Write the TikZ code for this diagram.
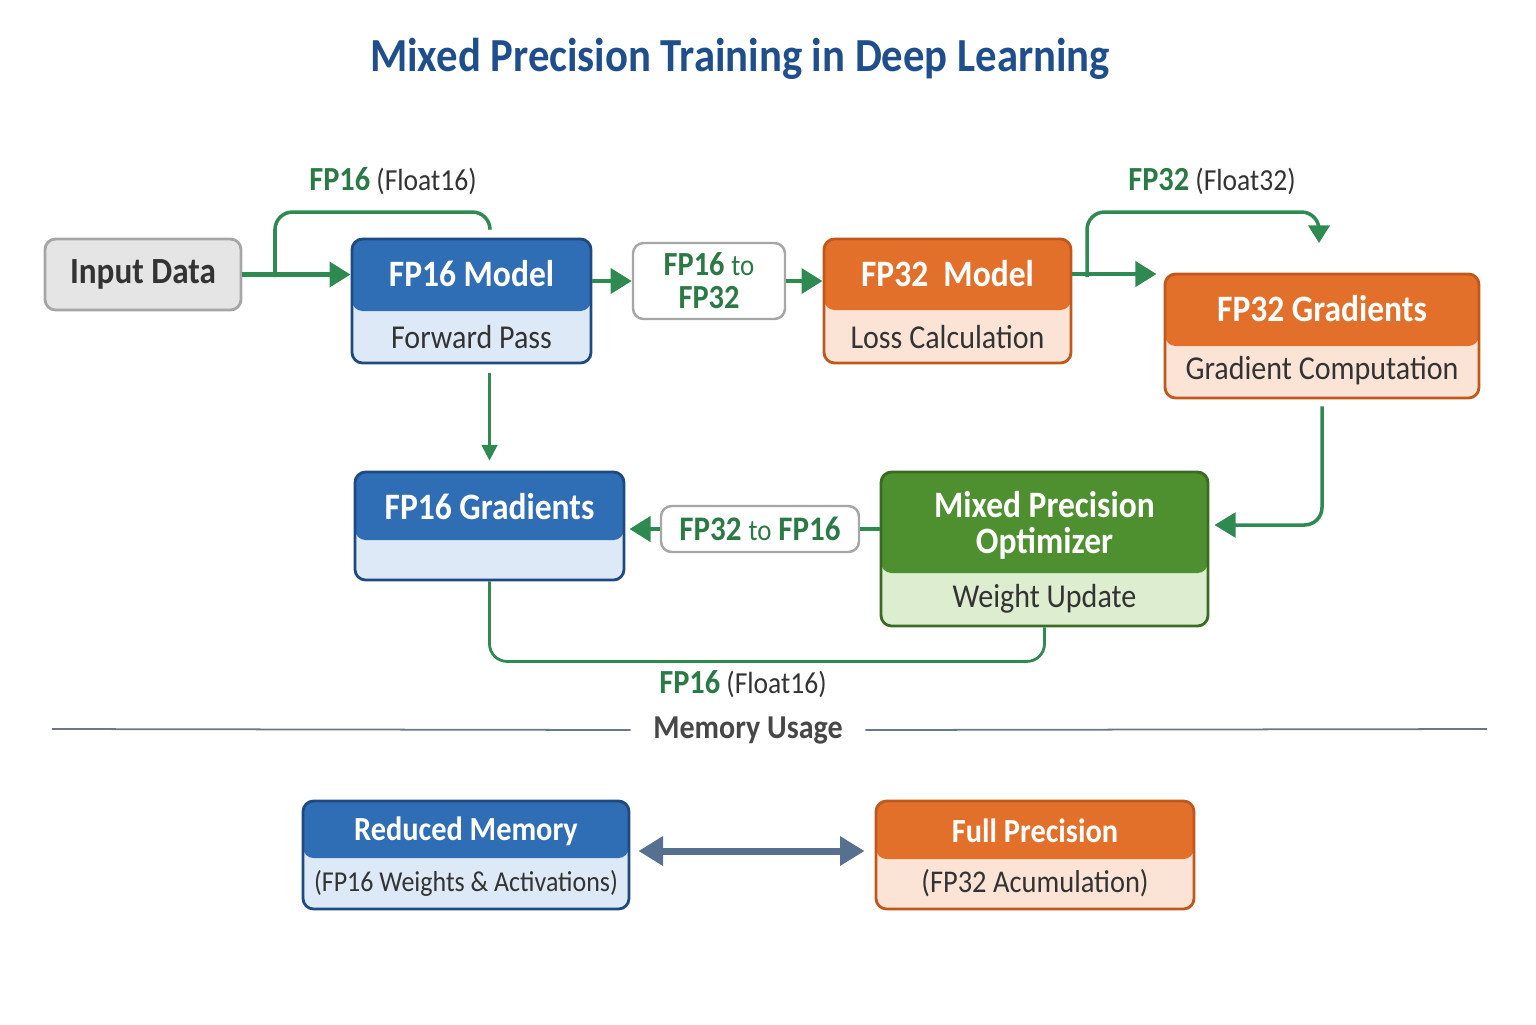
\documentclass[tikz,border=0pt]{standalone}
\usepackage{fontspec}
\setmainfont[FakeStretch=0.9]{Carlito}
\usetikzlibrary{positioning, arrows.meta, calc}
\definecolor{titleBlue}{HTML}{1F4E8C}
\definecolor{mBlue}{HTML}{2F6DB5}
\definecolor{mBlueDark}{HTML}{1F4A80}
\definecolor{mBlueLight}{HTML}{DDE9F6}
\definecolor{mOrange}{HTML}{E2702A}
\definecolor{mOrangeDark}{HTML}{C0581C}
\definecolor{mOrangeLight}{HTML}{FBE4D5}
\definecolor{mGreen}{HTML}{4E9030}
\definecolor{mGreenDark}{HTML}{3A6B22}
\definecolor{mGreenLight}{HTML}{DDEDD0}
\definecolor{mGray}{HTML}{A6A6A6}
\definecolor{mGrayLight}{HTML}{E5E5E5}
\definecolor{arrowGreen}{HTML}{2F8A52}
\definecolor{labelGreen}{HTML}{2B7A45}
\definecolor{txtDark}{HTML}{333333}
\definecolor{steel}{HTML}{56718F}
\definecolor{sepGray}{HTML}{6B7785}

\begin{document}
\begin{tikzpicture}[
  >=Triangle,
  stage/.style n args={4}{draw=#1, fill=#3, line width=0.8pt,
                          rounded corners=3pt, inner sep=0pt,
                          path picture={\fill[#2]
                            ([yshift=2pt]path picture bounding box.north west) rectangle
                            ([yshift=-#4]path picture bounding box.north east);}},
  hdr/.style={text=white, font=\bfseries\fontsize{10.6}{10.3}\selectfont, align=center},
  sub/.style={text=txtDark, font=\fontsize{9.5}{11}\selectfont},
  conv/.style={draw=mGray, fill=white, line width=0.7pt, rounded corners=3pt,
               align=center, text=labelGreen, inner sep=0pt},
  tag/.style={font=\fontsize{8.7}{11}\selectfont, text=txtDark},
  flow/.style={draw=arrowGreen, line width=1.4pt, -{Triangle[length=6pt,width=7pt]}},
  branch/.style={draw=arrowGreen, line width=1pt, rounded corners=5pt},
  thinflow/.style={draw=arrowGreen, line width=0.7pt, -{Triangle[length=4.5pt,width=4.5pt]}},
]
  \useasboundingbox (0,0) rectangle (15.36,-10.24);

  % Title
  \node[font=\bfseries\fontsize{13.5}{16}\selectfont, text=titleBlue] (title) at (7.40,-0.59)
    {Mixed Precision Training in Deep Learning};

  % Top row
  \node[draw=mGray, fill=mGrayLight, line width=0.8pt, rounded corners=3pt,
        minimum width=1.96cm, minimum height=0.71cm, text=txtDark,
        font=\bfseries\fontsize{10.5}{12}\selectfont] (inp) at (1.43,-2.745) {Input Data};

  \node[stage={mBlueDark}{mBlue}{mBlueLight}{0.72cm}, minimum width=2.39cm,
        minimum height=1.24cm] (fp16m) at (4.715,-3.01) {};
  \node[hdr] (fp16m-h) at (4.715,-2.74) {FP16 Model};
  \node[sub] (fp16m-s) at (4.715,-3.37) {Forward Pass};

  \node[conv, minimum width=1.52cm, minimum height=0.76cm,
        font=\fontsize{9.6}{9.4}\selectfont] (conv1) at (7.09,-2.81)
    {\textbf{FP16} {\fontsize{8.5}{9.4}\selectfont to}\\\textbf{FP32}};

  \node[stage={mOrangeDark}{mOrange}{mOrangeLight}{0.71cm}, minimum width=2.47cm,
        minimum height=1.24cm] (fp32m) at (9.475,-3.01) {};
  \node[hdr] (fp32m-h) at (9.475,-2.74) {FP32~~Model};
  \node[sub] (fp32m-s) at (9.475,-3.37) {Loss Calculation};

  \node[stage={mOrangeDark}{mOrange}{mOrangeLight}{0.72cm}, minimum width=3.14cm,
        minimum height=1.24cm] (fp32g) at (13.22,-3.36) {};
  \node[hdr] (fp32g-h) at (13.22,-3.09) {FP32 Gradients};
  \node[sub] (fp32g-s) at (13.22,-3.71) {Gradient Computation};

  % Middle row
  \node[stage={mBlueDark}{mBlue}{mBlueLight}{0.68cm}, minimum width=2.69cm,
        minimum height=1.08cm] (fp16g) at (4.895,-5.26) {};
  \node[hdr] (fp16g-h) at (4.895,-5.07) {FP16 Gradients};

  \node[conv, minimum width=1.98cm, minimum height=0.46cm,
        font=\fontsize{9.8}{11}\selectfont] (conv2) at (7.60,-5.29)
    {\textbf{FP32} {\fontsize{8.5}{11}\selectfont to} \textbf{FP16}};

  \node[stage={mGreenDark}{mGreen}{mGreenLight}{1.01cm}, minimum width=3.27cm,
        minimum height=1.54cm] (opt) at (10.445,-5.49) {};
  \node[hdr] (opt-h) at (10.445,-5.25) {Mixed Precision\\Optimizer};
  \node[sub] (opt-s) at (10.445,-5.99) {Weight Update};

  % Precision labels
  \node[tag] (lab1) at (3.93,-1.81) {\textcolor{labelGreen}{\bfseries\fontsize{9.6}{11}\selectfont FP16} (Float16)};
  \node[tag] (lab2) at (12.12,-1.81) {\textcolor{labelGreen}{\bfseries\fontsize{9.6}{11}\selectfont FP32} (Float32)};
  \node[tag] (lab3) at (7.43,-6.84) {\textcolor{labelGreen}{\bfseries\fontsize{9.6}{11}\selectfont FP16} (Float16)};

  % Flow arrows
  \coordinate (br1) at (2.75,-2.77);
  \coordinate (c1) at (4.90,-2.29);
  \coordinate (br2) at (10.87,-2.77);
  \coordinate (c2) at (13.19,-2.43);
  \draw[flow] (inp.east) -- (inp.east -| fp16m.west);
  \draw[branch] (br1) -- ++(0,0.65) -| (c1);
  \draw[flow] (fp16m.east |- conv1) -- (conv1.west);
  \draw[flow] (conv1.east) -- (conv1.east -| fp32m.west);
  \draw[flow] (fp32m-h -| fp32m.east) -- ([xshift=-2pt]fp32m-h -| fp32g.west);
  \draw[branch, -{Triangle[length=5pt,width=6pt]}] (br2) -- ++(0,0.65) -| (c2);
  \draw[branch, -{Triangle[length=6pt,width=7pt]}] ([yshift=-0.07cm]fp32g.south)
    |- ([xshift=0.05cm]opt-h -| opt.east);
  \draw[thinflow] ([yshift=-0.09cm]fp16g.north |- fp16m.south) -- ([yshift=0.1cm]fp16g.north);
  \draw[branch] (opt.west |- conv2) -- (conv2.east);
  \draw[flow] (conv2.west) -- ([xshift=0.04cm]conv2.west -| fp16g.east);
  \draw[branch, line width=0.8pt] (fp16g.south) -- ++(0,-0.8) -| (opt.south);

  % Memory usage
  \node[font=\bfseries\fontsize{9.5}{11}\selectfont, text=txtDark!90, inner xsep=0.22cm] (mem) at (7.48,-7.30) {Memory Usage};
  \coordinate (sepL) at (0.52,-7.29);
  \coordinate (sepR) at (14.87,-7.29);
  \draw[sepGray, line width=0.5pt] (sepL) -- (mem.west);
  \draw[sepGray, line width=0.5pt] (mem.east) -- (sepR);

  \node[stage={mBlueDark}{mBlue}{mBlueLight}{0.57cm}, minimum width=3.26cm,
        minimum height=1.08cm] (redm) at (4.66,-8.55) {};
  \node[hdr, font=\bfseries\fontsize{9.6}{11}\selectfont] (redm-h) at (4.66,-8.31) {Reduced Memory};
  \node[sub, font=\fontsize{8.2}{11}\selectfont] (redm-s) at (4.66,-8.83) {(FP16 Weights \& Activations)};

  \node[stage={mOrangeDark}{mOrange}{mOrangeLight}{0.58cm}, minimum width=3.18cm,
        minimum height=1.08cm] (fullp) at (10.35,-8.55) {};
  \node[hdr, font=\bfseries\fontsize{9.6}{11}\selectfont] (fullp-h) at (10.35,-8.31) {Full Precision};
  \node[sub, font=\fontsize{9}{11}\selectfont] (fullp-s) at (10.35,-8.83) {(FP32 Acumulation)};

  \draw[steel, line width=2pt, {Triangle[length=7pt,width=8pt]}-{Triangle[length=7pt,width=8pt]}]
    ([xshift=0.08cm,yshift=0.04cm]redm.east) -- ([xshift=-0.1cm,yshift=0.04cm]fullp.west);
\end{tikzpicture}
\end{document}
